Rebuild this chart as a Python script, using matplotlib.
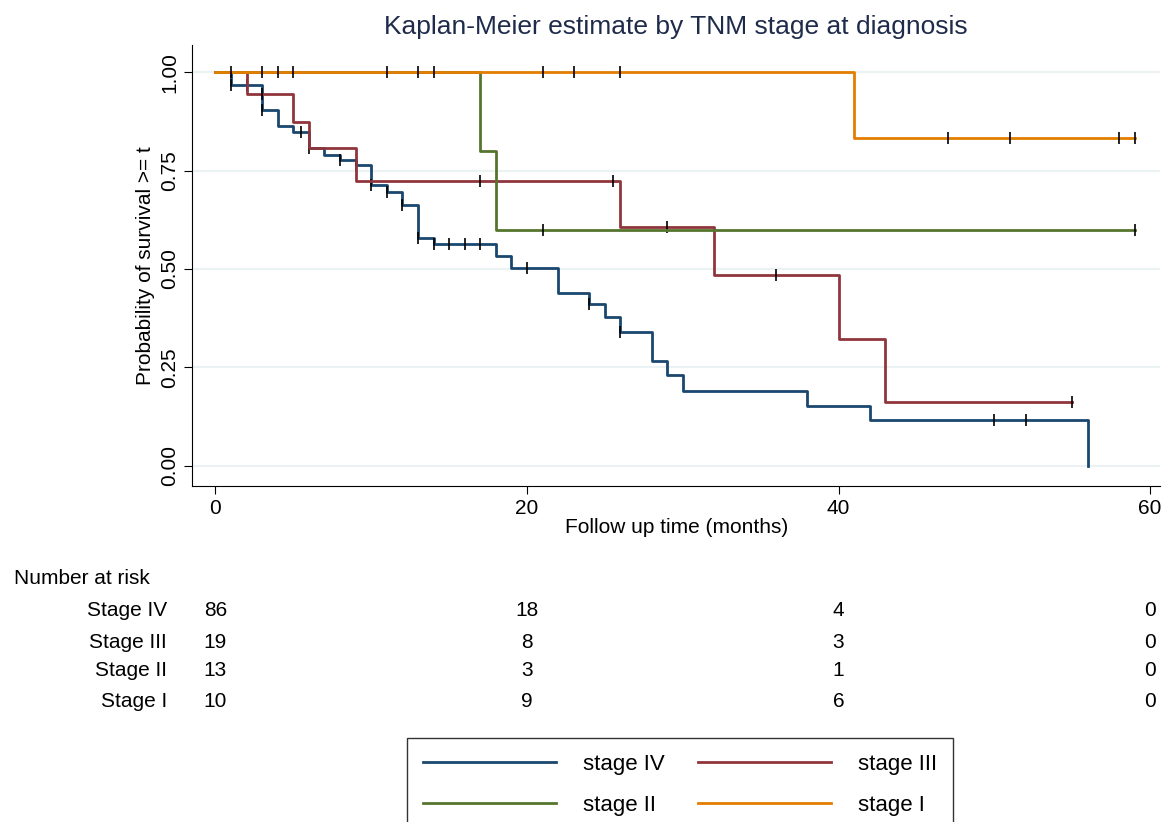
import numpy as np
import matplotlib.pyplot as plt

plt.rcParams['font.family'] = ['Liberation Sans', 'DejaVu Sans']

# Kaplan-Meier step data
t4 = [0, 1, 3, 4, 5, 6, 7, 8, 9, 10, 11, 12, 13, 14, 18, 19, 22, 24, 25, 26, 28, 29, 30, 38, 42, 56]
s4 = [1.0, 0.967, 0.904, 0.863, 0.848, 0.807, 0.79, 0.777, 0.764, 0.713, 0.695, 0.662, 0.58, 0.563,
      0.533, 0.503, 0.44, 0.41, 0.378, 0.34, 0.267, 0.231, 0.19, 0.152, 0.117, 0.0]
c4 = [1, 2, 3, 5.5, 6, 8, 9, 10, 11, 12, 13, 14, 15, 16, 17, 20, 24, 26, 50, 52]

t3 = [0, 2, 5, 6, 9, 26, 32, 40, 43, 55]
s3 = [1.0, 0.944, 0.873, 0.807, 0.723, 0.607, 0.485, 0.323, 0.163, 0.163]
c3 = [3, 17, 25.5, 29, 36, 55]

t2 = [0, 17, 18, 59]
s2 = [1.0, 0.8, 0.6, 0.6]
c2 = [21, 59]

t1 = [0, 41, 59]
s1 = [1.0, 0.833, 0.833]
c1 = [1, 3, 4, 5, 11, 13, 14, 21, 23, 26, 47, 51, 58, 59]

risk_times = [0, 20, 40, 60]
risk_rows = ['Stage IV', 'Stage III', 'Stage II', 'Stage I']
risk = [[86, 18, 4, 0], [19, 8, 3, 0], [13, 3, 1, 0], [10, 9, 6, 0]]

colors = ['#1a476f', '#90353b', '#55752f', '#e37e00']
labels = ['stage IV', 'stage III', 'stage II', 'stage I']

fig = plt.figure(figsize=(11.73, 8.22), dpi=100)
ax = fig.add_axes([0.164, 0.409, 0.825, 0.536])

series = [(t4, s4, c4), (t3, s3, c3), (t2, s2, c2), (t1, s1, c1)]
handles = []
for (t, s, c), col, lab in zip(series, colors, labels):
    h, = ax.step(t, s, where='post', color=col, lw=2, label=lab)
    handles.append(h)
    cy = [s[np.searchsorted(t, ci, side='right') - 1] for ci in c]
    ax.plot(c, cy, linestyle='none', marker='|', color='black', ms=8, mew=1.2)

ax.set_xlim(-1.48, 60.64)
ax.set_ylim(-0.051, 1.069)
ax.set_yticks([0, 0.25, 0.5, 0.75, 1.0])
ax.set_yticklabels(['0.00', '0.25', '0.50', '0.75', '1.00'], rotation=90, va='center')
ax.set_xticks([0, 20, 40, 60])
ax.grid(axis='y', color='#eaf2f3', lw=1.5)
ax.set_axisbelow(True)
for sp in ['top', 'right']:
    ax.spines[sp].set_visible(False)
ax.tick_params(labelsize=15, length=6)
ax.set_xlabel('Follow up time (months)', fontsize=15, labelpad=0)
ax.set_ylabel('Probability of survival >= t', fontsize=15)
ax.set_title('Kaplan-Meier estimate by TNM stage at diagnosis', fontsize=19, color='#1e2b4a', pad=8)

# number at risk table
fig.text(14 / 1173, 1 - 578 / 822, 'Number at risk', fontsize=15, va='center')
row_y = [610, 642, 671, 701]
for name, vals, yy in zip(risk_rows, risk, row_y):
    fy = 1 - yy / 822
    fig.text(167 / 1173, fy, name, fontsize=15, ha='right', va='center')
    for tt, v in zip(risk_times, vals):
        fx = ax.transData.transform((tt, 0))[0] / fig.bbox.width
        fig.text(fx, fy, str(v), fontsize=15, ha='center', va='center')

order = [0, 2, 1, 3]
fig.legend([handles[i] for i in order], [labels[i] for i in order], ncol=2, loc='upper center',
           bbox_to_anchor=(680 / 1173, 1 - 727 / 822), fontsize=16, handlelength=6,
           handletextpad=1.2, columnspacing=1.5, frameon=True, fancybox=False,
           edgecolor='black', borderpad=0.7, labelspacing=0.9)

fig.savefig('out.png', dpi=100)
